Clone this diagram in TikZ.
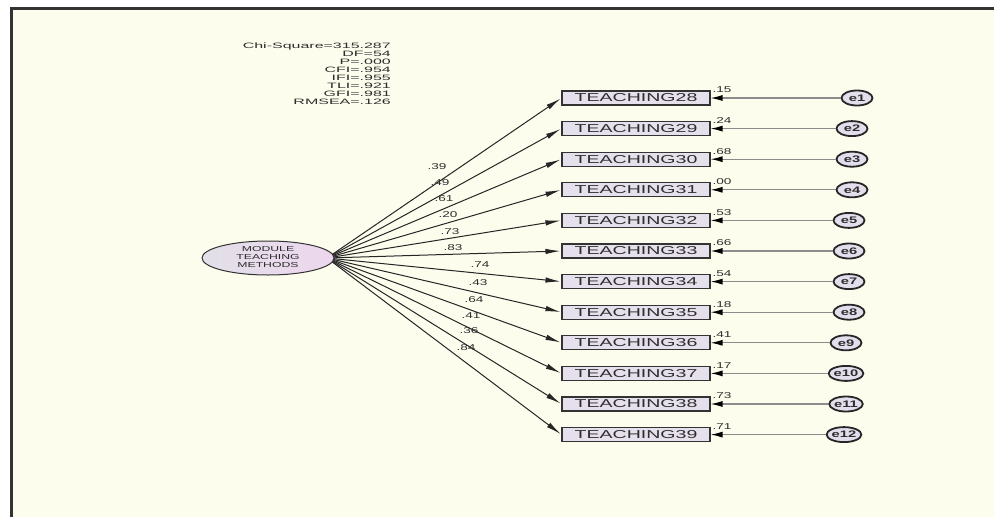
\documentclass[tikz,border=0pt]{standalone}
\usepackage{fontspec}
\setmainfont{Liberation Sans}
\usetikzlibrary{arrows.meta,shapes.geometric}
\definecolor{bgyellow}{RGB}{253,253,238}
\definecolor{boxfill}{RGB}{230,224,236}
\definecolor{latfill}{RGB}{226,224,232}
\definecolor{errfill}{RGB}{228,222,236}
\definecolor{txt}{RGB}{45,45,45}
\tikzset{
  obs/.style={draw=black!80, line width=1.1pt, fill=boxfill, minimum width=148pt, minimum height=14pt, inner sep=0pt, font=\fontsize{11.5}{11.5}\selectfont, text=txt},
  latent/.style={ellipse, draw=black!80, line width=1pt, left color=latfill, right color={rgb,255:red,238;green,214;blue,238}, minimum width=132pt, minimum height=34pt, inner sep=0pt, text=txt},
  err/.style={ellipse, draw=black!85, line width=1.8pt, fill=errfill, minimum width=31pt, minimum height=15pt, inner sep=0pt, font=\fontsize{9.5}{9.5}\selectfont\bfseries, text=txt},
  loadline/.style={draw=black!85, line width=1pt, -{Latex[length=15pt,width=5.5pt]}, shorten >=1pt},
  resline/.style={draw=black!45, line width=1.2pt, -{Latex[length=12pt,width=6pt,fill=black,color=black]}},
  lab/.style={font=\fontsize{8.5}{8.5}\selectfont, text=txt, inner sep=0pt}
}
\begin{document}
\begin{tikzpicture}[x=1pt,y=-1pt]
\useasboundingbox (0,0) rectangle (994,517);
\fill[white] (0,0) rectangle (994,517);
\fill[bgyellow] (10,7) rectangle (994,517);
\draw[line width=2.5pt, black!80] (11.25,517) -- (11.25,8.25) -- (994,8.25);

\node[anchor=north east, inner sep=0pt, text=txt] (fit) at (391,43)
  {\scalebox{2.05}[1]{\fontsize{7.8}{7.9}\selectfont\begin{tabular}{@{}r@{}}Chi-Square=315.287\\DF=54\\P=.000\\CFI=.954\\IFI=.955\\TLI=.921\\GFI=.981\\RMSEA=.126\end{tabular}}};

\coordinate (src) at (327,258);

\foreach \n/\ex/\ld/\lx/\ly/\rs [count=\i from 0] in {
  28/857/.39/437/167/.15,
  29/852/.49/440/183/.24,
  30/852/.61/444/199/.68,
  31/852/.20/448/215/.00,
  32/849/.73/450/232/.53,
  33/849/.83/453/248/.66,
  34/849/.74/480/265/.54,
  35/849/.43/478/283/.18,
  36/846/.64/474/300/.41,
  37/846/.41/471/316/.17,
  38/846/.36/469/331/.73,
  39/844/.84/466/348/.71}
{
  \pgfmathsetmacro\yy{98+30.6*\i}
  \pgfmathtruncatemacro\k{\i+1}
  \node[obs] (t\n) at (636,\yy) {\scalebox{1.7}[1]{TEACHING\n}};
  \node[err] (e\n) at (\ex,\yy) {\scalebox{1.55}[1]{e\k}};
  \draw[loadline] (src) -- (t\n.west);
  \draw[resline] (e\n) -- (t\n.east);
  \node[lab] (l\n) at (\lx,\ly) {\scalebox{1.6}[1]{\ld}};
  \node[lab] (r\n) at (722,\yy-8) {\scalebox{1.6}[1]{\rs}};
}

\node[latent] (M) at (268,258)
  {\scalebox{1.7}[1]{\fontsize{7.2}{8}\selectfont\begin{tabular}{@{}c@{}}MODULE\\TEACHING\\METHODS\end{tabular}}};
\end{tikzpicture}
\end{document}
